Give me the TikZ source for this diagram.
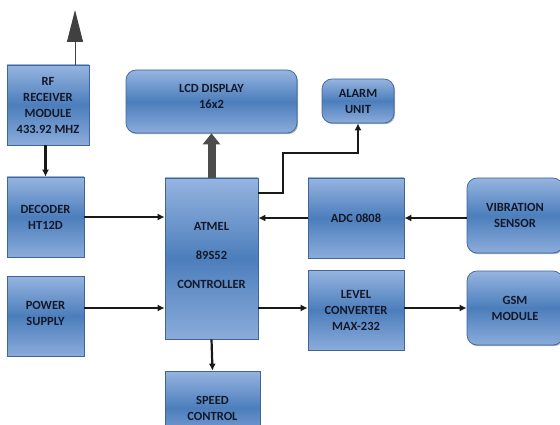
\documentclass[tikz,border=0pt]{standalone}
\usepackage{fontspec}
\setmainfont{Carlito}
\usetikzlibrary{positioning,arrows.meta,shadows}
\definecolor{boxlight}{RGB}{150,180,224}
\definecolor{boxdark}{RGB}{76,126,188}
\definecolor{boxedge}{RGB}{62,102,152}
\definecolor{labeltext}{RGB}{20,24,40}
\tikzset{
  block/.style={rectangle, draw=boxedge, line width=0.7pt, top color=boxlight, bottom color=boxlight!85!boxdark, middle color=boxdark,
                drop shadow={shadow xshift=1pt, shadow yshift=-1.2pt, opacity=0.45, fill=boxedge!70!black},
                inner sep=2pt, font=\fontsize{12.5}{16}\selectfont\bfseries, text=labeltext, align=center},
  roundblock/.style={block, rounded corners=10pt},
  fwd/.style={-{Latex[length=7pt,width=7pt]}, line width=2.2pt, black!90},
  fat/.style={-{Triangle[length=11pt,width=17pt]}, line width=8pt, black!70},
  antenna/.style={-{Triangle[length=32pt,width=16pt]}, line width=1pt, black!75},
}

\begin{document}
\begin{tikzpicture}[x=1pt, y=-1pt]
  \useasboundingbox (0,0) rectangle (560,425);
  \clip (0,0) rectangle (560,425);

  \node[block, minimum width=82pt, minimum height=80pt] (rf) at (48,105) {RF\\RECEIVER\\MODULE\\433.92 MHZ};
  \node[block, minimum width=77pt, minimum height=80pt] (decoder) at (45.5,217) {DECODER\\HT12D};
  \node[block, minimum width=77pt, minimum height=80pt] (power) at (45.5,316) {POWER\\SUPPLY\\[-10pt]};
  \node[block, minimum width=93pt, minimum height=161pt] (ctrl) at (211.5,258.5) {ATMEL\\[13pt]89S52\\[13pt]CONTROLLER\\[-10pt]};
  \node[block, minimum width=95pt, minimum height=74pt] (speed) at (212.5,408) {SPEED\\CONTROL};
  \node[roundblock, minimum width=171pt, minimum height=63pt] (lcd) at (211.5,101.5) {LCD DISPLAY\\16x2\\[-6pt]};
  \node[roundblock, minimum width=72pt, minimum height=44pt] (alarm) at (358,101) {ALARM\\UNIT};
  \node[block, minimum width=96pt, minimum height=80pt] (adc) at (356,218) {ADC 0808};
  \node[roundblock, minimum width=96pt, minimum height=75pt] (vib) at (515,215.5) {VIBRATION\\SENSOR};
  \node[block, minimum width=96pt, minimum height=80pt] (level) at (356,310) {LEVEL\\CONVERTER\\MAX-232};
  \node[roundblock, minimum width=96pt, minimum height=74pt] (gsm) at (515,308) {GSM\\MODULE};

  \coordinate (ant) at (75,10);
  \coordinate (bend) at (283,153);

  \draw[antenna] (rf.north -| ant) -- (ant);
  \draw[fwd] (decoder.north |- rf.south) -- (decoder.north);
  \draw[fwd] (decoder.east) -- (decoder.east -| ctrl.west);
  \draw[fwd] ([yshift=8pt]power.east) -- ([yshift=8pt]power.east -| ctrl.west);
  \draw[fat] (ctrl.north) -- (lcd.south);
  \draw[fwd] ([yshift=-15pt]ctrl.north east) -| (bend) -| (alarm.south);
  \draw[fwd] (adc.west) -- (adc.west -| ctrl.east);
  \draw[fwd] (vib.west |- adc.east) -- (adc.east);
  \draw[fwd] ([yshift=2pt]level.west -| ctrl.east) -- ([yshift=2pt]level.west);
  \draw[fwd] ([yshift=2pt]level.east) -- ([yshift=2pt]level.east -| gsm.west);
  \draw[fwd] (ctrl.south) -- (speed.north);
\end{tikzpicture}
\end{document}
